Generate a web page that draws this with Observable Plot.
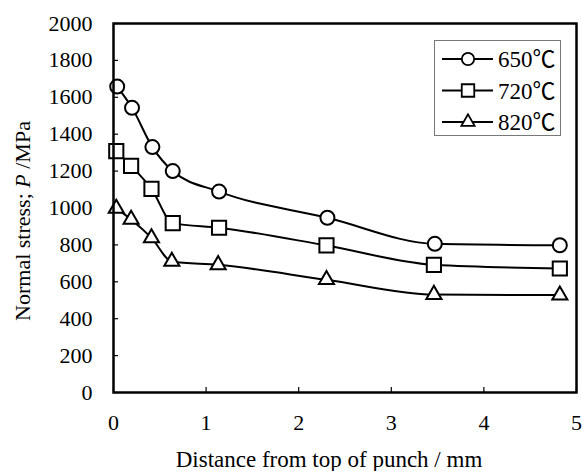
<!DOCTYPE html>
<html><head><meta charset="utf-8">
<script src="https://cdn.jsdelivr.net/npm/d3@7"></script>
<script src="https://cdn.jsdelivr.net/npm/@observablehq/plot@0.6"></script>
<style>
body{margin:0;background:#fff}
#wrap{position:relative;width:582px;height:471px}
#legend{position:absolute;left:434px;top:40px;width:127px;height:96px;border:1px solid #777;background:#fff;box-sizing:border-box}
</style>
</head><body><div id="wrap"></div>
<script>
const seriesNames = ["650℃", "720℃", "820℃"];
const distance650 = [0.04, 0.20, 0.42, 0.64, 1.14, 2.31, 3.47, 4.82];
const stress650   = [1658, 1543, 1330, 1200, 1089, 947, 806, 798];
const distance720 = [0.03, 0.19, 0.41, 0.64, 1.14, 2.30, 3.46, 4.82];
const stress720   = [1308, 1228, 1104, 918, 893, 797, 692, 672];
const distance820 = [0.03, 0.19, 0.41, 0.63, 1.13, 2.30, 3.46, 4.82];
const stress820   = [998, 938, 838, 710, 692, 611, 531, 528];
const xTicks = [0, 1, 2, 3, 4, 5];
const yTicks = [0, 200, 400, 600, 800, 1000, 1200, 1400, 1600, 1800, 2000];

const font = '"Liberation Serif","Noto Sans CJK JP",serif';
const series = [
  {name: seriesNames[0], x: distance650, y: stress650, symbol: "circle", r: 7},
  {name: seriesNames[1], x: distance720, y: stress720, symbol: "square", r: 8},
  {name: seriesNames[2], x: distance820, y: stress820, symbol: "triangle", r: 5.6}
];

const fmt = d => String(d);
const marks = [
  Plot.axisX({ticks: xTicks, tickFormat: fmt, tickSize: -5, tickPadding: 27, label: null, fontSize: 22, fontFamily: font, strokeWidth: 1.2}),
  Plot.axisY({ticks: yTicks, tickFormat: fmt, tickSize: -5, tickPadding: 26, label: null, fontSize: 22, fontFamily: font, strokeWidth: 1.2})
];
for (const s of series) {
  marks.push(Plot.line(s.y, {x: s.x, y: s.y, curve: "monotone-x", stroke: "#000", strokeWidth: 2}));
}
for (const s of series) {
  marks.push(Plot.dot(s.y, {x: s.x, y: s.y, symbol: s.symbol, r: s.r, fill: "#fff", stroke: "#000", strokeWidth: 2}));
}
marks.push(Plot.frame({stroke: "#000", strokeWidth: 2.5}));

const chart = Plot.plot({
  width: 582, height: 471,
  marginLeft: 113, marginRight: 6, marginTop: 23, marginBottom: 79,
  style: {fontFamily: font, fontSize: "22px", color: "#000", background: "#fff"},
  x: {domain: [0, 5]},
  y: {domain: [0, 2000]},
  marks
});
const wrap = document.getElementById("wrap");
wrap.appendChild(chart);

const svg = d3.select(chart);
svg.selectAll("text").attr("font-family", font);
const yl = svg.append("text")
  .attr("transform", "translate(30,221) rotate(-90)")
  .attr("text-anchor", "middle")
  .attr("font-family", font).attr("font-size", 22).attr("fill", "#000");
yl.append("tspan").text("Normal stress; ");
yl.append("tspan").attr("font-style", "italic").text("P");
yl.append("tspan").text(" /MPa");
svg.append("text")
  .attr("x", 329).attr("y", 467)
  .attr("text-anchor", "middle")
  .attr("font-family", font).attr("font-size", 23).attr("fill", "#000")
  .text("Distance from top of punch / mm");

// legend
const leg = document.createElement("div");
leg.id = "legend";
wrap.appendChild(leg);
const ls = d3.select(leg).append("svg").attr("width", 125).attr("height", 94);
const symMap = {circle: d3.symbolCircle, square: d3.symbolSquare, triangle: d3.symbolTriangle};
series.forEach((s, i) => {
  const cy = 18 + i * 31.5;
  const g = ls.append("g");
  g.append("line").attr("x1", 7).attr("x2", 58).attr("y1", cy).attr("y2", cy).attr("stroke", "#000").attr("stroke-width", 2);
  const rr = s.r * 0.88;
  g.append("path").attr("d", d3.symbol(symMap[s.symbol], rr * rr * Math.PI)())
    .attr("transform", `translate(33,${cy})`).attr("fill", "#fff").attr("stroke", "#000").attr("stroke-width", 1.8);
  g.append("text").attr("x", 63).attr("y", cy).attr("dy", "0.35em")
    .attr("font-family", font).attr("font-size", 23).text(s.name);
});
</script>
</body></html>
